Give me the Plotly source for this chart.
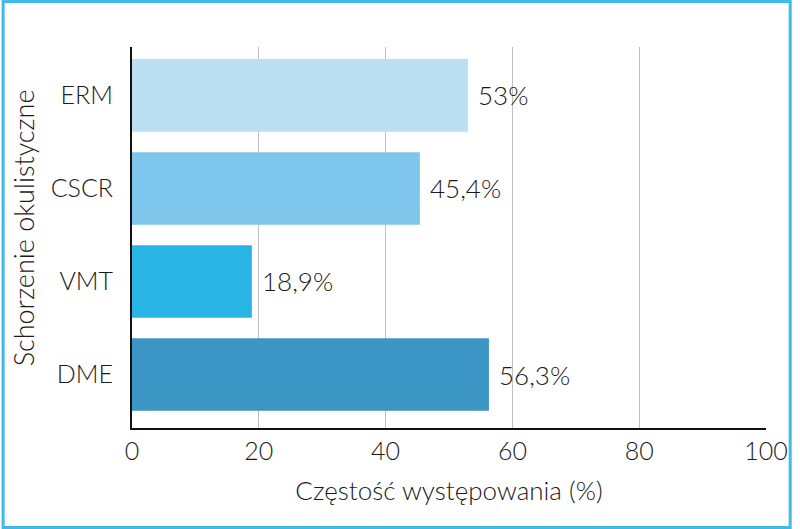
import plotly.graph_objects as go

categories = ["ERM", "CSCR", "VMT", "DME"]
values = [53, 45.4, 18.9, 56.3]
labels = ["53%", "45,4%", "18,9%", "56,3%"]
colors = ["#bddff3", "#7fc6ec", "#29b4e6", "#3b96c6"]
x_ticks = [0, 20, 40, 60, 80, 100]

W, H = 800, 529
L, R, T, B = 132, 26, 47, 101
pw, ph = W - L - R, H - T - B
FONT = "Lato"
WT = 300
TXT = "#1a1a1a"

fig = go.Figure(go.Bar(
    y=categories, x=values, orientation="h",
    marker=dict(color=colors, line=dict(width=0)),
))

for c, v, t in zip(categories, values, labels):
    fig.add_annotation(x=v, y=c, text=t, showarrow=False, xanchor="left",
                       xshift=8, font=dict(size=26, color=TXT, family=FONT, weight=WT))

fig.add_annotation(xref="paper", yref="paper", x=(22 - L) / pw, y=(428 - 228) / ph,
                   text="Schorzenie okulistyczne", textangle=-90, showarrow=False,
                   xanchor="center", yanchor="middle",
                   font=dict(size=27, color=TXT, family=FONT, weight=WT))

fig.update_layout(
    width=W, height=H,
    margin=dict(l=L, r=R, t=T, b=B),
    paper_bgcolor="white", plot_bgcolor="white",
    font=dict(family=FONT, color=TXT, weight=WT),
    bargap=0.22, showlegend=False,
    xaxis=dict(range=[0, 100], tickvals=x_ticks, showgrid=True, gridcolor="#c0c0c0",
               gridwidth=1, showline=True, linecolor="#111111", linewidth=2,
               zeroline=False, ticks="", tickfont=dict(size=25, weight=WT),
               title=dict(text="Częstość występowania (%)", font=dict(size=26, weight=WT), standoff=18)),
    yaxis=dict(categoryorder="array", categoryarray=categories[::-1],
               range=[-0.575, 3.52],
               showline=True, linecolor="#111111", linewidth=2, ticks="",
               ticklabelstandoff=12, tickfont=dict(size=25, weight=WT)),
)

fig.add_shape(type="rect", xref="paper", yref="paper",
              x0=(1.5 - L) / pw, x1=(W - 1.5 - L) / pw,
              y0=-(B - 1.5) / ph, y1=(ph + T - 1.5) / ph,
              line=dict(color="#42b9e8", width=3), layer="above")

fig.write_html("out.html")
